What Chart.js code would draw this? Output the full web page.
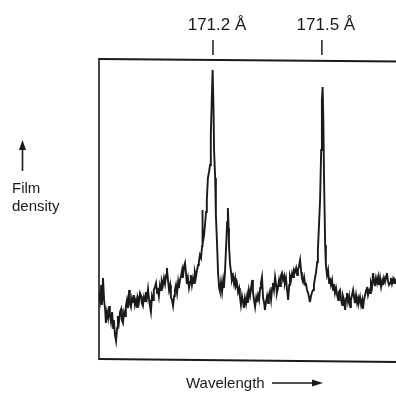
<!DOCTYPE html>
<html><head><meta charset="utf-8">
<script src="https://cdn.jsdelivr.net/npm/chart.js@4"></script>
<style>html,body{margin:0;padding:0;background:#fff;overflow:hidden}#wrap{width:400px;height:395px}</style>
</head><body><div id="wrap"><canvas id="c"></canvas></div>
<script>
const wavelength = [170.886,170.889,170.892,170.894,170.897,170.900,170.903,170.905,170.908,170.911,170.914,170.916,170.919,170.922,170.925,170.927,170.930,170.933,170.936,170.938,170.941,170.944,170.947,170.949,170.952,170.955,170.958,170.960,170.963,170.966,170.969,170.971,170.974,170.977,170.980,170.982,170.985,170.988,170.991,170.993,170.996,170.999,171.002,171.004,171.007,171.010,171.013,171.015,171.018,171.021,171.024,171.026,171.029,171.032,171.035,171.037,171.040,171.043,171.046,171.048,171.051,171.054,171.057,171.059,171.062,171.065,171.068,171.071,171.073,171.076,171.079,171.082,171.084,171.087,171.090,171.093,171.095,171.098,171.101,171.104,171.106,171.109,171.112,171.115,171.117,171.120,171.123,171.126,171.128,171.131,171.134,171.137,171.139,171.142,171.145,171.148,171.150,171.153,171.156,171.159,171.161,171.164,171.167,171.170,171.1705,171.172,171.175,171.178,171.181,171.183,171.186,171.189,171.192,171.194,171.197,171.199,171.2015,171.203,171.206,171.208,171.211,171.214,171.217,171.219,171.222,171.225,171.228,171.230,171.233,171.236,171.239,171.241,171.243,171.244,171.247,171.250,171.252,171.255,171.258,171.261,171.263,171.266,171.269,171.272,171.274,171.277,171.280,171.283,171.285,171.288,171.291,171.294,171.296,171.299,171.302,171.305,171.308,171.310,171.313,171.316,171.319,171.321,171.324,171.327,171.330,171.332,171.335,171.338,171.341,171.343,171.346,171.349,171.352,171.354,171.357,171.360,171.363,171.365,171.368,171.371,171.374,171.376,171.379,171.382,171.385,171.387,171.390,171.393,171.396,171.398,171.401,171.404,171.407,171.410,171.412,171.415,171.418,171.421,171.423,171.426,171.429,171.432,171.434,171.437,171.440,171.443,171.445,171.448,171.451,171.454,171.456,171.459,171.462,171.465,171.467,171.470,171.473,171.476,171.478,171.481,171.484,171.487,171.489,171.492,171.495,171.498,171.500,171.502,171.504,171.506,171.509,171.511,171.514,171.517,171.520,171.522,171.525,171.528,171.531,171.533,171.536,171.539,171.542,171.545,171.547,171.550,171.553,171.556,171.558,171.561,171.564,171.567,171.569,171.572,171.575,171.578,171.580,171.583,171.586,171.589,171.591,171.594,171.597,171.600,171.602,171.605,171.608,171.611,171.613,171.616,171.619,171.622,171.624,171.627,171.630,171.633,171.635,171.638,171.641,171.644,171.646,171.649,171.652,171.655,171.657,171.660,171.663,171.666,171.668,171.671,171.674,171.677,171.679,171.682,171.685,171.688,171.690,171.693,171.696,171.699,171.701,171.704,171.707,171.709];
const filmDensity = [0.67,0.59,0.74,0.54,0.81,0.59,0.49,0.36,0.47,0.41,0.53,0.44,0.37,0.47,0.31,0.39,0.24,0.18,0.31,0.43,0.37,0.47,0.50,0.39,0.36,0.47,0.43,0.53,0.59,0.51,0.69,0.56,0.52,0.61,0.57,0.64,0.54,0.59,0.52,0.61,0.57,0.66,0.63,0.56,0.53,0.62,0.58,0.67,0.61,0.70,0.59,0.54,0.47,0.63,0.59,0.69,0.72,0.76,0.66,0.71,0.63,0.74,0.69,0.78,0.74,0.81,0.75,0.84,0.91,0.79,0.69,0.74,0.62,0.59,0.53,0.63,0.69,0.74,0.66,0.77,0.71,0.79,0.83,0.89,0.81,0.92,0.96,0.84,0.75,0.81,0.71,0.77,0.84,0.74,0.81,0.76,0.87,0.82,0.89,0.94,0.97,1.04,1.01,1.13,1.49,1.15,1.23,1.34,1.47,1.59,1.81,1.87,1.94,2.24,2.64,2.89,2.49,2.09,1.81,1.44,1.17,0.86,0.71,0.68,0.77,0.67,0.78,0.71,0.87,1.11,1.37,1.51,1.31,1.14,0.95,0.86,0.79,0.83,0.75,0.81,0.73,0.76,0.67,0.71,0.63,0.54,0.63,0.57,0.51,0.61,0.55,0.63,0.56,0.69,0.63,0.71,0.79,0.67,0.59,0.52,0.61,0.57,0.64,0.59,0.71,0.76,0.82,0.61,0.56,0.49,0.57,0.63,0.56,0.64,0.68,0.59,0.71,0.76,0.69,0.82,0.74,0.66,0.71,0.79,0.73,0.83,0.86,0.79,0.83,0.76,0.81,0.69,0.59,0.74,0.83,0.79,0.86,0.82,0.89,0.87,0.91,0.84,0.89,0.93,0.99,0.87,0.81,0.77,0.82,0.74,0.76,0.69,0.66,0.61,0.57,0.63,0.67,0.69,0.74,0.81,0.87,0.97,1.09,1.34,1.59,2.09,2.59,2.72,2.39,1.79,1.14,0.94,0.84,0.89,0.76,0.81,0.74,0.79,0.69,0.75,0.66,0.71,0.64,0.59,0.67,0.69,0.59,0.54,0.63,0.59,0.49,0.61,0.66,0.57,0.63,0.52,0.59,0.64,0.69,0.61,0.56,0.64,0.56,0.61,0.57,0.62,0.54,0.59,0.50,0.59,0.64,0.69,0.72,0.64,0.69,0.66,0.76,0.72,0.86,0.77,0.73,0.81,0.76,0.82,0.74,0.81,0.72,0.78,0.74,0.81,0.77,0.83,0.86,0.78,0.74,0.76,0.81,0.75,0.80,0.76,0.79,0.77,0.81,0.75];
const lineLabels = ['171.2 Å', '171.5 Å'];
const lineWavelengths = [171.2, 171.5];
const yAxisLabel = ['Film', 'density'];
const xAxisLabel = 'Wavelength';

const points = wavelength.map((w, i) => ({x: w, y: filmDensity[i]}));
const ink = '#1a1a1a';
const FONT = '"Liberation Sans", Arial, Helvetica, sans-serif';

const decor = {
  id: 'decor',
  afterDraw(chart) {
    const {ctx, chartArea: a, scales} = chart;
    const xs = scales.x;
    ctx.save();
    ctx.strokeStyle = ink;
    ctx.lineCap = 'butt';
    // frame: top, left, bottom (right edge falls outside the view)
    ctx.lineWidth = 2;
    ctx.beginPath();
    ctx.moveTo(a.left, a.top); ctx.lineTo(a.right, a.top + 2.5);
    ctx.stroke();
    ctx.lineWidth = 1.6;
    ctx.beginPath();
    ctx.moveTo(a.left, a.top - 1); ctx.lineTo(a.left, a.bottom + 1);
    ctx.stroke();
    ctx.lineWidth = 2;
    ctx.beginPath();
    ctx.moveTo(a.left, a.bottom); ctx.lineTo(a.right, a.bottom + 3);
    ctx.stroke();
    // line markers above the frame
    ctx.fillStyle = ink;
    ctx.font = '17px ' + FONT;
    ctx.textAlign = 'center';
    ctx.textBaseline = 'alphabetic';
    lineWavelengths.forEach((w, i) => {
      const px = xs.getPixelForValue(w);
      ctx.lineWidth = 1.5;
      ctx.beginPath();
      ctx.moveTo(px, a.top - 19); ctx.lineTo(px, a.top - 4);
      ctx.stroke();
      ctx.fillText(lineLabels[i], px + 4, a.top - 29);
    });
    // y axis label with arrow
    ctx.lineWidth = 1.6;
    ctx.beginPath();
    ctx.moveTo(22.5, 171); ctx.lineTo(22.5, 147);
    ctx.stroke();
    ctx.beginPath();
    ctx.moveTo(22.5, 140); ctx.lineTo(19, 150); ctx.lineTo(26, 150); ctx.closePath();
    ctx.fill();
    ctx.textAlign = 'left';
    ctx.font = '15px ' + FONT;
    ctx.fillText(yAxisLabel[0], 12, 193);
    ctx.fillText(yAxisLabel[1], 12, 211);
    // x axis label with arrow
    ctx.font = '15px ' + FONT;
    ctx.textAlign = 'left';
    ctx.fillText(xAxisLabel, 186, 388);
    ctx.lineWidth = 1.6;
    ctx.beginPath();
    ctx.moveTo(272, 383); ctx.lineTo(314, 383);
    ctx.stroke();
    ctx.beginPath();
    ctx.moveTo(323, 383); ctx.lineTo(312, 379.5); ctx.lineTo(312, 386.5); ctx.closePath();
    ctx.fill();
    ctx.restore();
  }
};

new Chart(document.getElementById('c'), {
  type: 'line',
  data: { datasets: [{ data: points, borderColor: ink, borderWidth: 1.9, pointRadius: 0, tension: 0, fill: false }] },
  options: {
    responsive: true, maintainAspectRatio: false, animation: false,
    layout: { padding: { left: 99, right: 1, top: 59, bottom: 36 } },
    plugins: { legend: { display: false }, tooltip: { enabled: false } },
    scales: {
      x: { type: 'linear', display: false, min: 170.886, max: 171.7124 },
      y: { type: 'linear', display: false, min: 0, max: 3.0 }
    }
  },
  plugins: [decor]
});
</script>
</body></html>
